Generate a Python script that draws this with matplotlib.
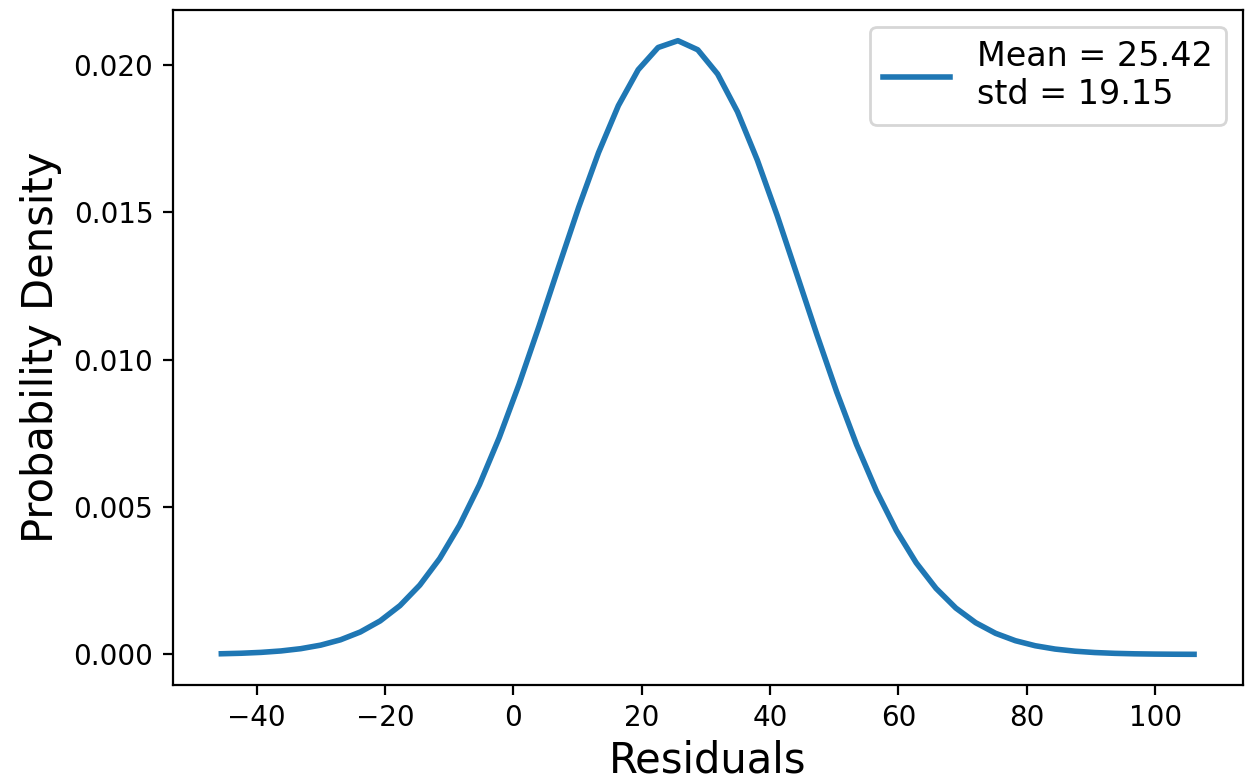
import matplotlib
matplotlib.use("Agg")
import matplotlib.pyplot as plt

residuals = [-45.51, -42.42, -39.32, -36.23, -33.14, -30.04, -26.95, -23.86, -20.76, -17.67,
             -14.58, -11.48, -8.39, -5.29, -2.20, 0.89, 3.99, 7.08, 10.17, 13.27,
             16.36, 19.45, 22.55, 25.64, 28.73, 31.83, 34.92, 38.01, 41.11, 44.20,
             47.30, 50.39, 53.48, 56.58, 59.67, 62.76, 65.86, 68.95, 72.04, 75.14,
             78.23, 81.32, 84.42, 87.51, 90.60, 93.70, 96.79, 99.88, 102.98, 106.07]
density = [0.0000219, 0.0000392, 0.0000687, 0.000117, 0.000194, 0.000314, 0.000495, 0.000760, 0.001137, 0.001657,
           0.002353, 0.003254, 0.004385, 0.005757, 0.007362, 0.009173, 0.011136, 0.013170, 0.015173, 0.017032,
           0.018627, 0.019845, 0.020599, 0.020831, 0.020522, 0.019698, 0.018419, 0.016780, 0.014894, 0.012878,
           0.010848, 0.008903, 0.007119, 0.005546, 0.004209, 0.003112, 0.002242, 0.001573, 0.001076, 0.000716,
           0.000465, 0.000294, 0.000181, 0.000109, 0.0000635, 0.0000362, 0.0000201, 0.0000109, 0.0000057, 0.0000029]
legend_label = "Mean = 25.42\nstd = 19.15"

dpi = 200
fig = plt.figure(figsize=(1251 / dpi, 777 / dpi), dpi=dpi)
ax = fig.add_axes([172.7 / 1251, (777 - 685) / 777, (1242.7 - 172.7) / 1251, (685 - 10) / 777])
ax.plot(residuals, density, color="#1f77b4", lw=2, label=legend_label)
ax.set_xlabel("Residuals", fontsize=15, labelpad=2.5)
ax.set_ylabel("Probability Density", fontsize=15)
ax.tick_params(labelsize=10)
ax.legend(loc="upper right", fontsize=12)
fig.savefig("out.png", dpi=dpi)
